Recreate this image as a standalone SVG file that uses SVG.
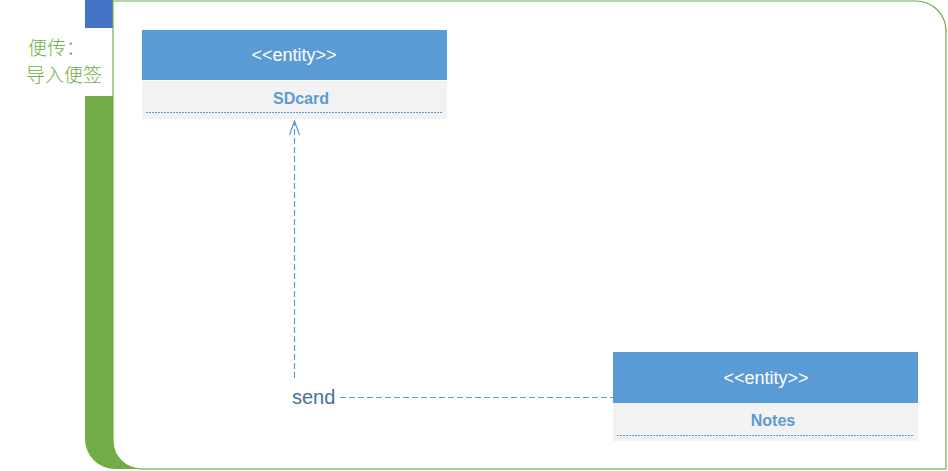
<svg xmlns="http://www.w3.org/2000/svg" width="948" height="471" viewBox="0 0 948 471">
  <defs>
    <style>
      .hdr { fill: #5B9BD5; }
      .body { fill: #F2F2F2; }
      .stereo { font-family: "Liberation Sans", Arial, sans-serif; font-size: 18px; fill: #FFFFFF; text-anchor: middle; }
      .name { font-family: "Liberation Sans", Arial, sans-serif; font-size: 16px; font-weight: bold; fill: #5B9BD5; text-anchor: middle; }
      .sep { stroke: #5B9BD5; stroke-width: 1.2; stroke-dasharray: 2 1; fill: none; }
      .dep { stroke: #5B9BD5; stroke-width: 1.2; stroke-dasharray: 6 3; fill: none; }
      .lane { font-family: "Noto Sans CJK SC", "Liberation Sans", sans-serif; font-size: 19px; font-weight: 300; fill: #70AD47; }
      .lbl { font-family: "Liberation Sans", Arial, sans-serif; font-size: 20px; fill: #41719C; }
    </style>
    <marker id="openArrow" markerWidth="16" markerHeight="12" refX="15" refY="6" orient="auto" markerUnits="userSpaceOnUse">
      <path d="M1,1 L15,6 L1,11" fill="none" stroke="#5B9BD5" stroke-width="1.2"/>
    </marker>
  </defs>

  <rect width="948" height="471" fill="#FFFFFF"/>

  <g id="swimlane">
    <rect x="85" y="0" width="28" height="28" fill="#4472C4"/>
    <path d="M85,96 H113 V439 A30,30 0 0 0 143,469 H115 A30,30 0 0 1 85,439 Z" fill="#70AD47"/>
    <path d="M113,1 H916 A30,30 0 0 1 946,31 V469 H141 A28,28 0 0 1 113,441 Z" fill="#FFFFFF" stroke="#70AD47" stroke-width="1.2"/>
    <line x1="140" y1="469" x2="946" y2="469" stroke="#A9D18E" stroke-width="2"/>
    <text class="lane" x="28" y="55">便传：</text>
    <text class="lane" x="26" y="82">导入便签</text>
  </g>

  <g id="node-sdcard">
    <rect class="hdr" x="142" y="30" width="305" height="50"/>
    <rect class="body" x="142" y="81" width="305" height="38"/>
    <text class="stereo" x="294" y="61">&lt;&lt;entity&gt;&gt;</text>
    <text class="name" x="301" y="104">SDcard</text>
    <line class="sep" x1="146" y1="112.5" x2="443" y2="112.5"/>
  </g>

  <g id="node-notes">
    <rect class="hdr" x="613" y="352" width="305" height="51"/>
    <rect class="body" x="613" y="403" width="305" height="38"/>
    <text class="stereo" x="766" y="384">&lt;&lt;entity&gt;&gt;</text>
    <text class="name" x="773" y="426">Notes</text>
    <line class="sep" x1="617" y1="435.5" x2="914" y2="435.5"/>
  </g>

  <g id="connectors">
    <line class="dep" x1="294.5" y1="378" x2="294.5" y2="121" marker-end="url(#openArrow)"/>
    <line class="dep" x1="340" y1="397.5" x2="613" y2="397.5"/>
    <text class="lbl" x="292" y="404">send</text>
  </g>
</svg>
